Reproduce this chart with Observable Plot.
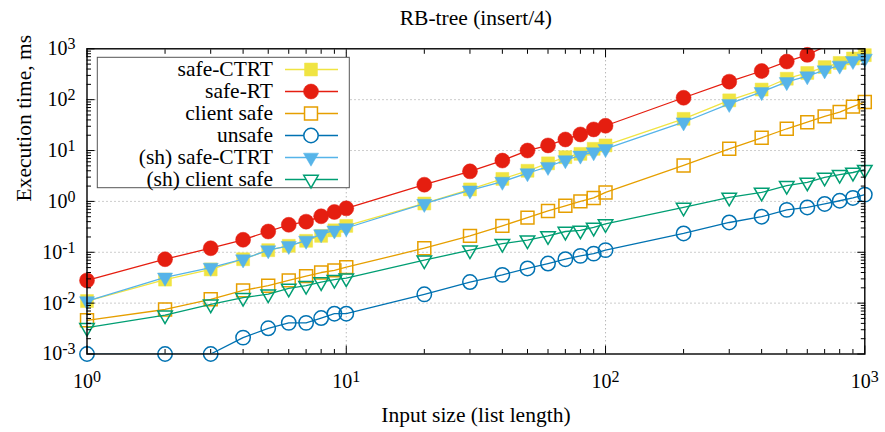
<!DOCTYPE html>
<html><head><meta charset="utf-8">
<script src="https://cdn.jsdelivr.net/npm/d3@7"></script>
<script src="https://cdn.jsdelivr.net/npm/@observablehq/plot@0.6"></script>
<style>body{margin:0;background:#fff} svg{display:block}</style>
</head><body><div id="chart"></div>
<script>
// ---- data ----
const inputSizes = [1,2,3,4,5,6,7,8,9,10,20,30,40,50,60,70,80,90,100,200,300,400,500,600,700,800,900,1000];
const seriesNames = ["safe-CTRT","safe-RT","client safe","unsafe","(sh) safe-CTRT","(sh) client safe"];
const seriesColors = ["#f0e442","#e51e10","#e69f00","#0072b2","#56b4e9","#009e73"];
const safeCTRT = [0.011,0.029,0.046,0.073,0.11,0.134,0.168,0.21,0.27,0.33, 0.91,1.72,2.77,4.0,5.6,7.4,8.6,10.8,12.6, 42,97,158,258,335,437,528,645,750];
const safeRT = [0.028,0.073,0.12,0.176,0.256,0.347,0.40,0.51,0.62,0.73, 2.13,3.9,6.35,10,12.6,16.5,20.7,26,30.7, 109,226,366,562,760,1100,null,null,null];
const clientSafe = [0.0046,0.0075,0.0119,0.0178,0.022,0.028,0.034,0.04,0.044,0.051, 0.12,0.21,0.33,0.48,0.65,0.82,1.0,1.17,1.5, 5.1,10.8,17.8,26.8,36,47,57,73,90];
const unsafe = [0.001,0.001,0.001,0.0021,0.0032,0.0041,0.0041,0.0051,0.0062,0.0062, 0.0149,0.026,0.036,0.048,0.06,0.073,0.085,0.094,0.11, 0.234,0.385,0.5,0.68,0.76,0.89,1.03,1.17,1.36];
const shSafeCTRT = [0.011,0.032,0.05,0.073,0.11,0.134,0.17,0.227,0.27,0.30, 0.9,1.65,2.45,3.6,4.8,6.5,8.0,9.3,10.8, 36,83,142,223,290,380,470,580,645];
const shClientSafe = [0.0033,0.0058,0.0095,0.0128,0.015,0.0195,0.022,0.026,0.029,0.031, 0.07,0.11,0.148,0.173,0.21,0.256,0.27,0.307,0.36, 0.76,1.2,1.5,2.04,2.37,2.97,3.36,3.7,4.2];
const seriesValues = [safeCTRT, safeRT, clientSafe, unsafe, shSafeCTRT, shClientSafe];
const xMajorTicks = [1,10,100,1000];
const yMajorTicks = [0.001,0.01,0.1,1,10,100,1000];
const titleText = "RB-tree (insert/4)";
const xLabel = "Input size (list length)";
const yLabel = "Execution time, ms";

// ---- styles ----
const FONT = "'Liberation Serif','Times New Roman',serif";
const markerStyles = [
  {symbol:"square", filled:true, r:7.3, rotate:0},
  {symbol:"circle", filled:true, r:7.5, rotate:0},
  {symbol:"square", filled:false, r:7.3, rotate:0},
  {symbol:"circle", filled:false, r:7.2, rotate:0},
  {symbol:"triangle", filled:true, r:5.6, rotate:180},
  {symbol:"triangle", filled:false, r:5.4, rotate:180}
];
const minorsOf = (decades) => decades.flatMap(d => [2,3,4,5,6,7,8,9].map(k => k*d));
const xMinorTicks = minorsOf([1,10,100]);
const yMinorTicks = minorsOf([0.001,0.01,0.1,1,10,100]);
const xDomain = [1,1000], yDomain = [0.001,1000];

const rows = [];
seriesValues.forEach((vals,i) => vals.forEach((v,j) => {
  if (v != null) rows.push({series: seriesNames[i], x: inputSizes[j], y: v});
}));
const inDomain = d => d.x >= xDomain[0] && d.x <= xDomain[1] && d.y >= yDomain[0] && d.y <= yDomain[1];
const supFmt = v => "10^" + Math.round(Math.log10(v));

const seriesMarks = seriesNames.flatMap((name,i) => {
  const data = rows.filter(d => d.series === name);
  const st = markerStyles[i], c = seriesColors[i];
  return [
    Plot.line(data, {x:"x", y:"y", stroke:c, strokeWidth:1.3, clip:true}),
    Plot.dot(data.filter(inDomain), {x:"x", y:"y", symbol:st.symbol, r:st.r, rotate:st.rotate,
      fill: st.filled ? c : "none", stroke:c, strokeWidth: st.filled ? 0.5 : 1.5})
  ];
});

const tickAxes = [];
for (const anchor of ["bottom","top"]) {
  tickAxes.push(Plot.axisX(xMajorTicks, {anchor, tickSize:-8, fill:"none", label:null, strokeWidth:1}));
  tickAxes.push(Plot.axisX(xMinorTicks, {anchor, tickSize:-4.5, fill:"none", label:null, strokeWidth:1}));
}
for (const anchor of ["left","right"]) {
  tickAxes.push(Plot.axisY(yMajorTicks, {anchor, tickSize:-8, fill:"none", label:null, strokeWidth:1}));
  tickAxes.push(Plot.axisY(yMinorTicks, {anchor, tickSize:-4.5, fill:"none", label:null, strokeWidth:1}));
}

const chart = Plot.plot({
  width: 885, height: 432,
  marginLeft: 86.5, marginRight: 20.7, marginTop: 48.3, marginBottom: 78.5,
  style: {fontFamily: FONT, fontSize: "20px", background: "white", color: "black"},
  x: {type:"log", domain: xDomain},
  y: {type:"log", domain: yDomain},
  marks: [
    Plot.gridX([10,100], {stroke:"#9a9a9a", strokeOpacity:1, strokeDasharray:"1,3"}),
    Plot.gridY([0.01,0.1,1,10,100], {stroke:"#9a9a9a", strokeOpacity:1, strokeDasharray:"1,3"}),
    ...seriesMarks,
    ...tickAxes,
    Plot.axisX(xMajorTicks, {anchor:"bottom", tickSize:0, tickPadding:20, tickFormat: supFmt, label:null, fontSize:20}),
    Plot.axisY(yMajorTicks, {anchor:"left", tickSize:0, tickPadding:11.5, tickFormat: supFmt, label:null, fontSize:20}),
    Plot.frame({stroke:"black", strokeWidth:1.4}),
    Plot.text([titleText], {frameAnchor:"top", lineAnchor:"middle", dy:-30.5, fontSize:21.5, text: d => d}),
    Plot.text([xLabel], {frameAnchor:"bottom", lineAnchor:"middle", dy:61, fontSize:21.5, text: d => d}),
    Plot.text([yLabel], {frameAnchor:"left", lineAnchor:"middle", rotate:-90, dx:-63, fontSize:21.5, text: d => d})
  ]
});

// superscripts on tick labels
d3.select(chart).selectAll("text").each(function() {
  const m = /^10\^(-?\d+)$/.exec(this.textContent);
  if (!m) return;
  const t = d3.select(this);
  t.text("10");
  t.append("tspan").attr("dy", "-0.38em").attr("font-size", "0.8em").text(m[1]);
});

// legend
const svg = d3.select(chart);
const lg = svg.append("g").attr("font-family", FONT).attr("font-size", 21.5);
const box = {x:97.3, y:57.3, w:252, h:130.4};
lg.append("rect").attr("x", box.x).attr("y", box.y).attr("width", box.w).attr("height", box.h)
  .attr("fill", "white").attr("stroke", "#555").attr("stroke-width", 1);
const symMap = {square: d3.symbolSquare, circle: d3.symbolCircle, triangle: d3.symbolTriangle};
seriesNames.forEach((name,i) => {
  const cy = 69.5 + i*22, st = markerStyles[i], c = seriesColors[i];
  lg.append("text").attr("x", 273).attr("y", cy).attr("dy", "0.32em").attr("text-anchor", "end").text(name);
  lg.append("line").attr("x1", 285).attr("x2", 338).attr("y1", cy).attr("y2", cy)
    .attr("stroke", c).attr("stroke-width", 1.3);
  lg.append("path").attr("d", d3.symbol(symMap[st.symbol], Math.PI*st.r*st.r)())
    .attr("transform", `translate(311,${cy}) rotate(${st.rotate})`)
    .attr("fill", st.filled ? c : "white").attr("stroke", c).attr("stroke-width", st.filled ? 0.5 : 1.5);
});

document.getElementById("chart").appendChild(chart);
</script></body></html>
